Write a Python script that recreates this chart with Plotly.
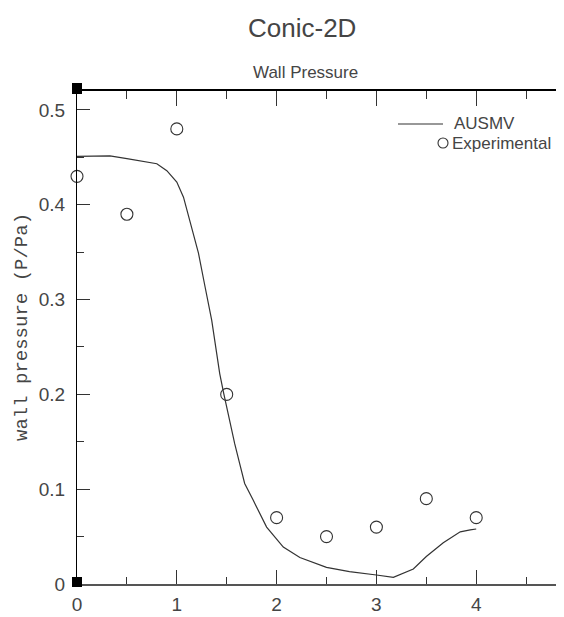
import plotly.graph_objects as go

# ---- data ----
ausmv_x = [0, 0.33, 0.5, 0.665, 0.8, 0.9, 1.0, 1.067, 1.15, 1.217, 1.284, 1.35, 1.40, 1.43,
           1.47, 1.525, 1.58, 1.63, 1.68, 1.765, 1.85, 1.9, 2.067, 2.233, 2.5, 2.73, 3.0,
           3.17, 3.37, 3.5, 3.67, 3.84, 3.94, 4.0]
ausmv_y = [0.451, 0.4516, 0.4486, 0.4457, 0.4433, 0.436, 0.424, 0.408, 0.3765, 0.349, 0.313,
           0.278, 0.243, 0.222, 0.201, 0.173, 0.148, 0.127, 0.106, 0.0885, 0.071, 0.060,
           0.039, 0.028, 0.0176, 0.013, 0.0095, 0.007, 0.0158, 0.029, 0.0435, 0.055, 0.057,
           0.058]

exp_x = [0, 0.5, 1, 1.5, 2, 2.5, 3, 3.5, 4]
exp_y = [0.43, 0.39, 0.48, 0.2, 0.07, 0.05, 0.06, 0.09, 0.07]

x_range = [0, 5.04]
y_range = [0, 0.52]

title_text = "Conic-2D"
subtitle_text = "Wall Pressure"
y_title = "wall pressure (P/Pa)"
legend_names = ["AUSMV", "Experimental"]

FONT = "Liberation Sans, Arial, sans-serif"
MONO = "Liberation Mono, DejaVu Sans Mono, monospace"
TXT = "#454545"
INK = "#333333"

# the page body has an 8px margin: work in page pixels, convert to figure pixels
OFF = 8
L, R, T, B = 77 - OFF, 580 - OFF, 91 - OFF, 584 - OFF   # plot runs past the window edge
W, H = R, 617 - OFF
PW, PH = R - L, B - T


def px(xp):
    return (xp - OFF - L) / PW


def py(yp):
    return (B - (yp - OFF)) / PH


fig = go.Figure()
fig.add_trace(go.Scatter(x=ausmv_x, y=ausmv_y, mode="lines", name=legend_names[0],
                         line=dict(color=INK, width=1.2), cliponaxis=False, showlegend=False))
fig.add_trace(go.Scatter(x=exp_x, y=exp_y, mode="markers", name=legend_names[1],
                         marker=dict(symbol="circle-open", size=12, color=INK,
                                     line=dict(width=1.1, color=INK)),
                         cliponaxis=False, showlegend=False))
# invisible trace to carry the top axis
fig.add_trace(go.Scatter(x=exp_x, y=exp_y, mode="none", xaxis="x2", showlegend=False,
                         hoverinfo="skip"))

fig.update_layout(
    width=W, height=H,
    margin=dict(l=L, r=W - R, t=T, b=H - B, pad=0),
    paper_bgcolor="white", plot_bgcolor="white",
    font=dict(family=FONT, color=TXT, size=18),
    showlegend=False,
    xaxis=dict(range=x_range, automargin=False, showgrid=False, zeroline=False, showline=True,
               linecolor="#555555", linewidth=2, ticks="inside", ticklen=14, tickwidth=1,
               tickcolor=INK, dtick=1, tick0=0, ticklabelstandoff=2,
               tickfont=dict(size=19, color=TXT, family=FONT),
               minor=dict(dtick=0.5, tick0=0, ticks="inside", ticklen=7, tickwidth=1,
                          tickcolor=INK, showgrid=False)),
    xaxis2=dict(range=x_range, matches="x", overlaying="x", side="top", anchor="y",
                automargin=False, showgrid=False, zeroline=False, showline=True,
                linecolor="black", linewidth=1.5, ticks="inside", ticklen=15, tickwidth=1,
                tickcolor=INK, dtick=1, tick0=0, showticklabels=False,
                minor=dict(dtick=0.5, tick0=0, ticks="inside", ticklen=8, tickwidth=1,
                           tickcolor=INK, showgrid=False)),
    yaxis=dict(range=y_range, automargin=False, showgrid=False, zeroline=False, showline=True,
               linecolor="black", linewidth=1, ticks="inside", ticklen=13, tickwidth=1,
               tickcolor=INK, dtick=0.1, tick0=0, ticklabelstandoff=7,
               tickfont=dict(size=19, color=TXT, family=FONT),
               minor=dict(dtick=0.05, tick0=0, ticks="inside", ticklen=7, tickwidth=1,
                          tickcolor=INK, showgrid=False)),
)

# titles
fig.add_annotation(text=title_text, xref="paper", yref="paper", x=px(302), y=py(28),
                   xanchor="center", yanchor="middle", showarrow=False,
                   font=dict(size=26, color=TXT, family=FONT))
fig.add_annotation(text=subtitle_text, xref="paper", yref="paper", x=px(305), y=py(72),
                   xanchor="center", yanchor="middle", showarrow=False,
                   font=dict(size=17, color=TXT, family=FONT))
fig.add_annotation(text=y_title, xref="paper", yref="paper", x=px(22), y=py(327),
                   xanchor="center", yanchor="middle", textangle=-90, showarrow=False,
                   font=dict(size=19, color=TXT, family=MONO))

# legend (drawn as key glyphs + real text)
fig.add_shape(type="line", xref="paper", yref="paper", x0=px(398), x1=px(443),
              y0=py(124), y1=py(124), line=dict(color=INK, width=1.2))
fig.add_shape(type="circle", xref="paper", yref="paper", xsizemode="pixel",
              ysizemode="pixel", xanchor=px(443), yanchor=py(143), x0=-5, x1=5, y0=-5, y1=5,
              line=dict(color=INK, width=1.1), fillcolor="rgba(0,0,0,0)")
fig.add_annotation(text=legend_names[0], xref="paper", yref="paper", x=px(452), y=py(124),
                   xanchor="left", yanchor="middle", showarrow=False,
                   font=dict(size=17, color=TXT, family=FONT))
fig.add_annotation(text=legend_names[1], xref="paper", yref="paper", x=px(450), y=py(143),
                   xanchor="left", yanchor="middle", showarrow=False,
                   font=dict(size=17, color=TXT, family=FONT))

# black corner squares
for ya, y0, y1 in [(1, -3, 8), (0, -3, 7)]:
    fig.add_shape(type="rect", xref="paper", yref="paper", xsizemode="pixel",
                  ysizemode="pixel", xanchor=0, yanchor=ya, x0=-5, x1=5, y0=y0, y1=y1,
                  fillcolor="black", line=dict(width=0), layer="above")

fig.write_html("out.html")
